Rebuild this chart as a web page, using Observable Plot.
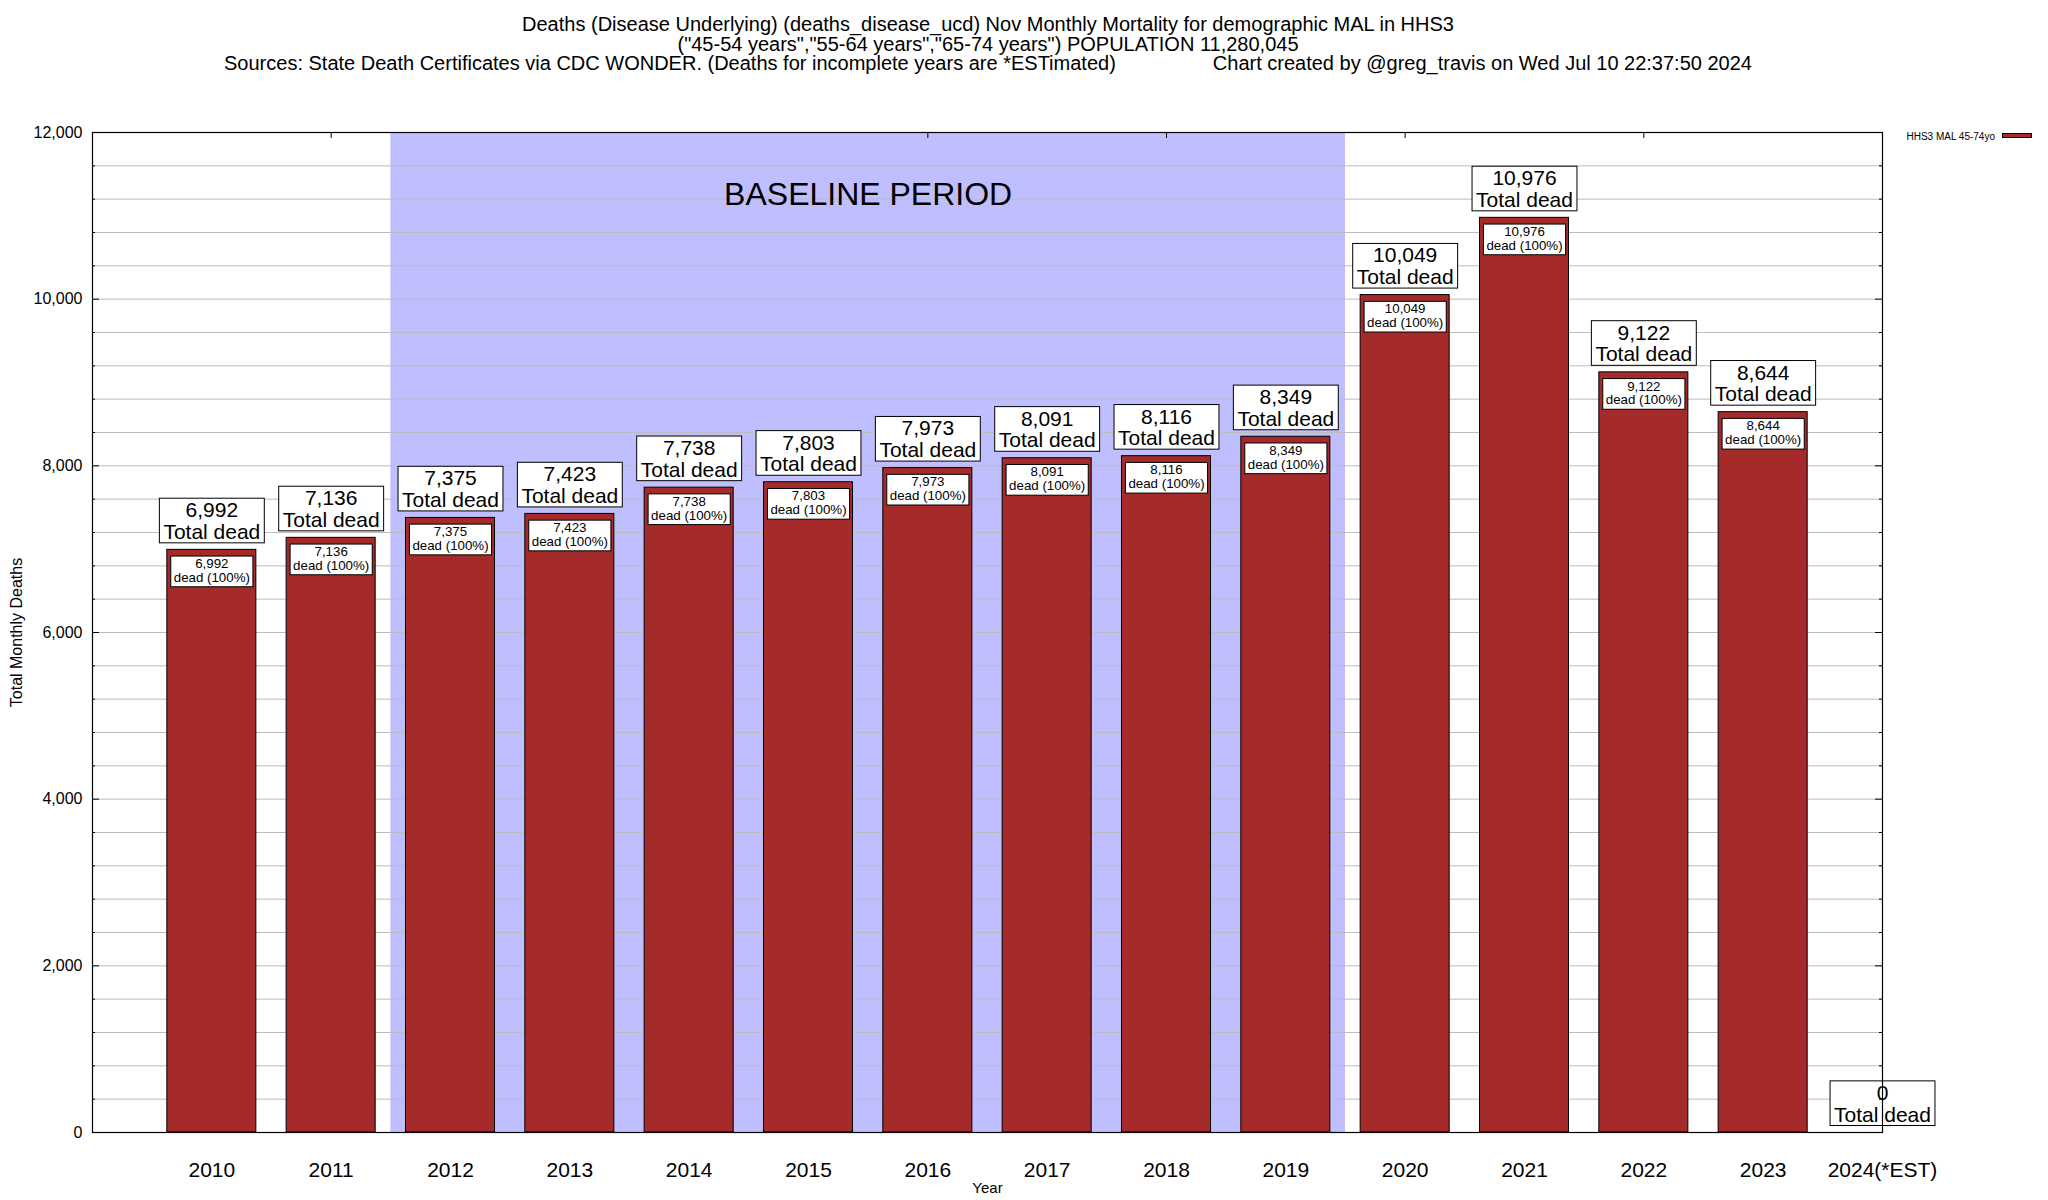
<!DOCTYPE html>
<html>
<head>
<meta charset="utf-8">
<script src="https://cdn.jsdelivr.net/npm/d3@7"></script>
<script src="https://cdn.jsdelivr.net/npm/@observablehq/plot@0.6"></script>
<style>
  body { margin: 0; background: #fff; font-family: "Liberation Sans", Arial, sans-serif; color: #000; }
  #wrap { position: relative; width: 2048px; height: 1200px; background: #fff; }
  #title { position: absolute; left: 0; top: 15px; width: 1976px; text-align: center; font-size: 20px; line-height: 19.5px; white-space: pre; z-index: 2; }
  #legendText { position: absolute; right: 53px; top: 132px; font-size: 10px; line-height: 10px; white-space: pre; z-index: 2; }
  #legendSwatch { position: absolute; left: 2002px; top: 133px; width: 30px; height: 5px; box-sizing: border-box; border: 1px solid #000; z-index: 2; }
  #chart { position: absolute; left: 0; top: 100px; z-index: 1; }
</style>
</head>
<body>
<div id="wrap">
  <div id="chart"></div>
  <div id="title"></div>
  <div id="legendText"></div>
  <div id="legendSwatch"></div>
</div>
<script>
// ---- data ----
const years = [2010, 2011, 2012, 2013, 2014, 2015, 2016, 2017, 2018, 2019, 2020, 2021, 2022, 2023, 2024];
const deaths = [6992, 7136, 7375, 7423, 7738, 7803, 7973, 8091, 8116, 8349, 10049, 10976, 9122, 8644, 0];
const xTickLabels = ["2010", "2011", "2012", "2013", "2014", "2015", "2016", "2017", "2018", "2019", "2020", "2021", "2022", "2023", "2024(*EST)"];
const baselineYears = [2012, 2013, 2014, 2015, 2016, 2017, 2018, 2019];
const yTicks = [0, 2000, 4000, 6000, 8000, 10000, 12000];
const topTickYears = [2011, 2016, 2018, 2020, 2022];
const titleLines = [
  "Deaths (Disease Underlying) (deaths_disease_ucd) Nov Monthly Mortality for demographic MAL in HHS3",
  "(\"45-54 years\",\"55-64 years\",\"65-74 years\") POPULATION 11,280,045"
];
const sourceText = "Sources: State Death Certificates via CDC WONDER. (Deaths for incomplete years are *ESTimated)";
const creditText = "Chart created by @greg_travis on Wed Jul 10 22:37:50 2024";
const legendLabel = "HHS3 MAL 45-74yo";
const baselineLabel = "BASELINE PERIOD";
const yLabel = "Total Monthly Deaths";
const xLabel = "Year";
const bigSuffix = "Total dead";
const smallSuffix = "dead (100%)";

// ---- styles ----
const barColor = "#a52a2a";
const shadeColor = "#bfbfff";
const gridColor = "#bdbdbd";
const yMax = 12000;
const barHalf = 0.373;

const table = years.map((y, i) => ({year: y, value: deaths[i], label: xTickLabels[i]}));
const fmt = d3.format(",");

// titles / legend
const titleEl = document.getElementById("title");
titleLines.forEach(t => { const d = document.createElement("div"); d.textContent = t; titleEl.appendChild(d); });
const l3 = document.createElement("div");
const s1 = document.createElement("span"); s1.textContent = sourceText;
const sp = document.createElement("span"); sp.style.display = "inline-block"; sp.style.width = "97px";
const s2 = document.createElement("span"); s2.textContent = creditText;
l3.append(s1, sp, s2); titleEl.appendChild(l3);
document.getElementById("legendText").textContent = legendLabel;
document.getElementById("legendSwatch").style.background = barColor;

const minorTicks = d3.range(400, yMax, 400);
const majorInner = yTicks.filter(v => v > 0 && v < yMax);
const minorOnly = minorTicks.filter(v => v % 2000 !== 0);

const plot = Plot.plot({
  width: 2048,
  height: 1100,
  marginLeft: 92,
  marginRight: 166,
  marginTop: 32,
  marginBottom: 68,
  style: {fontFamily: "Liberation Sans, Arial, sans-serif", fontSize: "16px", background: "#fff", overflow: "visible"},
  x: {type: "linear", domain: [years[0] - 1, years[years.length - 1]]},
  y: {domain: [0, yMax]},
  marks: [
    Plot.rect([baselineYears], {x1: d => d[0] - 0.5, x2: d => d[d.length - 1] + 0.5, y1: 0, y2: yMax, fill: shadeColor}),
    Plot.ruleY(minorTicks, {y: d => d, stroke: gridColor, strokeWidth: 1}),
    Plot.rect(table.filter(d => d.value > 0), {x1: d => d.year - barHalf, x2: d => d.year + barHalf, y1: 0, y2: "value", fill: barColor, stroke: "#000", strokeWidth: 1}),
    Plot.text(table.filter(d => d.value > 0), {x: "year", y: "value", text: d => fmt(d.value) + "\n" + smallSuffix, fontSize: 13.3, lineHeight: 1.03, lineAnchor: "top", dy: 8.5, fill: "#000", ariaLabel: () => "smalllabel"}),
    Plot.text(table, {x: "year", y: "value", text: d => fmt(d.value) + "\n" + bigSuffix, fontSize: 21, lineHeight: 1.03, lineAnchor: "bottom", dy: -11, fill: "#000", ariaLabel: () => "biglabel"}),
    Plot.text([baselineLabel], {x: () => (baselineYears[0] + baselineYears[baselineYears.length - 1]) / 2, text: d => d, frameAnchor: "top", textAnchor: "middle", lineAnchor: "bottom", dy: 72, fontSize: 32, fill: "#000"}),
    Plot.tickX(topTickYears, {x: d => d, stroke: "#000", insetBottom: 994}),
    Plot.tickY(majorInner, {y: d => d, stroke: "#000", insetRight: 1783}),
    Plot.tickY(majorInner, {y: d => d, stroke: "#000", insetLeft: 1783}),
    Plot.tickY(minorOnly, {y: d => d, stroke: "#000", insetRight: 1787}),
    Plot.tickY(minorOnly, {y: d => d, stroke: "#000", insetLeft: 1787}),
    Plot.frame({stroke: "#000", strokeWidth: 1.2}),
    Plot.axisY({ticks: yTicks, tickFormat: fmt, tickSize: 0, tickPadding: 10, fontSize: 16, label: null}),
    Plot.axisX({ticks: years, tickFormat: d => xTickLabels[years.indexOf(d)], tickSize: 0, tickPadding: 30, fontSize: 21, label: null}),
    Plot.text([yLabel], {text: d => d, frameAnchor: "left", textAnchor: "middle", lineAnchor: "middle", rotate: -90, dx: -76, fontSize: 16, fill: "#000"}),
    Plot.text([xLabel], {text: d => d, frameAnchor: "bottom", textAnchor: "middle", lineAnchor: "middle", dy: 56, fontSize: 15, fill: "#000"})
  ]
});
document.getElementById("chart").appendChild(plot);

// white boxes behind value labels
function boxify(label, padX, padBottom) {
  d3.select(plot).selectAll(`text[aria-label="${label}"]`).each(function () {
    const b = this.getBBox();
    const r = document.createElementNS("http://www.w3.org/2000/svg", "rect");
    r.setAttribute("x", b.x - padX);
    r.setAttribute("y", b.y);
    r.setAttribute("width", b.width + 2 * padX);
    r.setAttribute("height", b.height + padBottom);
    r.setAttribute("fill", "#fff");
    r.setAttribute("stroke", "#000");
    r.setAttribute("stroke-width", 1);
    const tf = this.getAttribute("transform");
    if (tf) r.setAttribute("transform", tf);
    this.parentNode.insertBefore(r, this);
  });
}
boxify("smalllabel", 3, 2);
boxify("biglabel", 4, 0);
// keep frame on top of label boxes
const frameG = d3.select(plot).select('[aria-label="frame"]').node();
if (frameG) frameG.parentNode.appendChild(frameG);
</script>
</body>
</html>
